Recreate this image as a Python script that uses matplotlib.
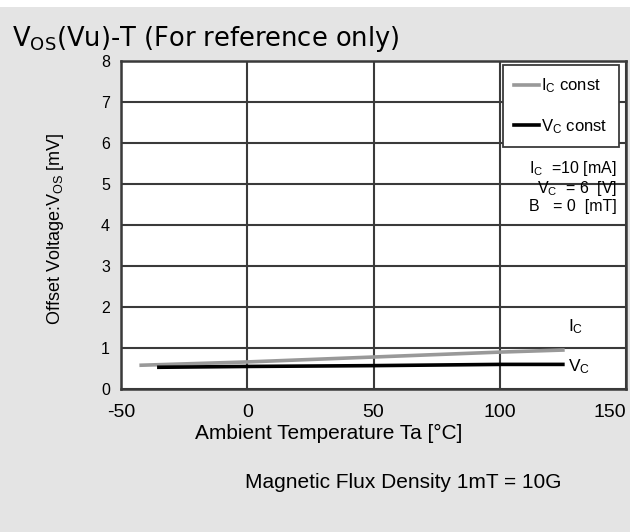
import matplotlib.pyplot as plt
from matplotlib.patches import Rectangle

plt.rcParams['font.family'] = ['Liberation Sans', 'DejaVu Sans']
plt.rcParams['axes.unicode_minus'] = False

# data
ic_temp = [-42, 0, 50, 100, 125]
ic_vos = [0.58, 0.66, 0.78, 0.90, 0.95]
vc_temp = [-35, 0, 50, 100, 125]
vc_vos = [0.53, 0.55, 0.57, 0.60, 0.60]

x_ticks = [-50, 0, 50, 100, 150]
y_ticks = [0, 1, 2, 3, 4, 5, 6, 7, 8]

bg = '#e4e4e4'
grid_c = '#3a3a3a'

fig = plt.figure(figsize=(6.3, 5.32), dpi=100, facecolor=bg)
fig.patches.append(Rectangle((0, 1 - 7 / 532), 1, 7 / 532, transform=fig.transFigure,
                             facecolor='white', edgecolor='none', zorder=0))
ax = fig.add_axes([121 / 630, 1 - 389 / 532, 505 / 630, 328 / 532])
ax.set_facecolor('white')

ax.plot(ic_temp, ic_vos, color='#999999', lw=2.6, label=r'$\mathregular{I_C}$ const', zorder=3)
ax.plot(vc_temp, vc_vos, color='black', lw=2.6, label=r'$\mathregular{V_C}$ const', zorder=3)

ax.set_xlim(-50, 150)
ax.set_ylim(0, 8)
ax.set_xticks(x_ticks)
ax.set_yticks(y_ticks)
ax.tick_params(axis='both', length=0)
ax.tick_params(axis='x', labelsize=14, pad=11)
ax.tick_params(axis='y', labelsize=11.5, pad=8)
lbls = ax.get_xticklabels()
lbls[-1].set_horizontalalignment('right')
lbls[-1].set_x(1)
ax.grid(True, color=grid_c, lw=1.5)
for s in ax.spines.values():
    s.set_color(grid_c)
    s.set_linewidth(1.8)

leg = ax.legend(loc='upper right', bbox_to_anchor=(0.986, 0.988), borderaxespad=0,
                fontsize=12, handlelength=1.5, handletextpad=0.1, labelspacing=1.3,
                borderpad=0.7, fancybox=False, framealpha=1, edgecolor=grid_c)
leg.get_frame().set_linewidth(1.3)

ax.text(0.982, 0.70, r'$\mathregular{I_C}$  =10 [mA]' + '\n' + r'$\mathregular{V_C}$  = 6  [V]' + '\n' + r'B   = 0  [mT]',
        transform=ax.transAxes, ha='right', va='top', fontsize=11.5, linespacing=1.05)
ax.text(127, 1.51, r'$\mathregular{I_C}$', fontsize=12.5, ha='left', va='center')
ax.text(127, 0.54, r'$\mathregular{V_C}$', fontsize=12.5, ha='left', va='center')

fig.text(12 / 630, 1 - 46 / 532, r'$\mathregular{V_{OS}}$(Vu)-T (For reference only)',
         fontsize=18.5, family='DejaVu Sans', ha='left', va='baseline')
fig.text(55 / 630, 1 - 229 / 532, r'Offset Voltage:$\mathregular{V_{OS}}$ [mV]',
         fontsize=13, rotation=90, ha='center', va='center')
fig.text(329 / 630, 1 - 433 / 532, 'Ambient Temperature Ta [°C]',
         fontsize=15, ha='center', va='center')
fig.text(403 / 630, 1 - 482 / 532, 'Magnetic Flux Density 1mT = 10G',
         fontsize=15, ha='center', va='center')

fig.savefig('out.png', dpi=100, facecolor=bg)
